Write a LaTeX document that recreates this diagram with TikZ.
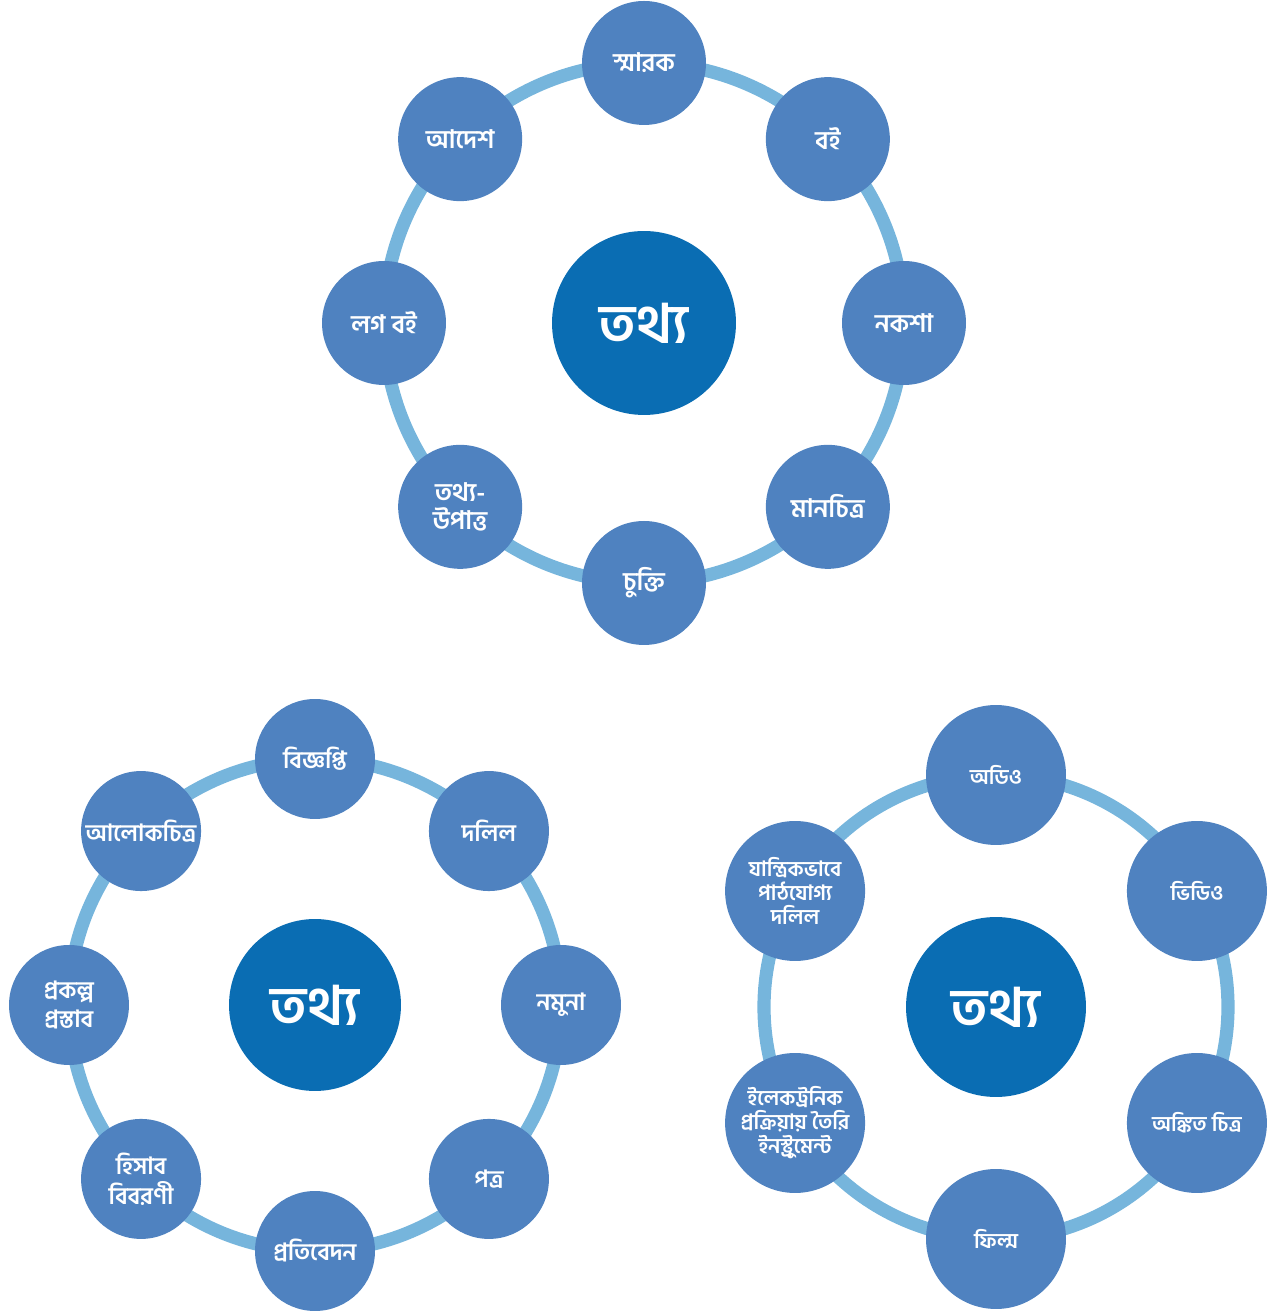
\documentclass[tikz,border=0pt]{standalone}
\usepackage{fontspec}
\newfontfamily\bnfont[Script=Bengali]{Hind Siliguri}
\definecolor{ringblue}{HTML}{76B5DC}
\definecolor{itemblue}{HTML}{4F82C0}
\definecolor{hubblue}{HTML}{0A6DB3}
\tikzstyle{item} = [circle, fill=itemblue, text=white, align=center, inner sep=0pt]
\tikzstyle{topitem} = [item, minimum size=2.48cm, font=\bnfont\bfseries\fontsize{14.5}{16}\selectfont]
\tikzstyle{leftitem} = [item, minimum size=2.4cm, font=\bnfont\bfseries\fontsize{13.5}{17}\selectfont]
\tikzstyle{rightitem} = [item, minimum size=2.8cm, font=\bnfont\bfseries\fontsize{12}{13.6}\selectfont]
\tikzstyle{hub} = [circle, fill=hubblue, text=white, inner sep=0pt, font=\bnfont\bfseries\fontsize{31}{34}\selectfont]
\tikzstyle{ring} = [draw=ringblue, line width=7.5pt]
\newcommand{\around}[3]{([shift={(#2:#3)}]#1)}

\begin{document}
\begin{tikzpicture}[x=0.02cm, y=0.02cm]%
	\useasboundingbox (0,0) rectangle (1276,1314);%
	% top cycle
	\node[hub, minimum size=3.68cm] (top) at (644,991) {তথ্য};%
	\draw[ring] (top.center) circle (260);%
	\node[topitem] (tA) at \around{top}{90}{260} {স্মারক};%
	\node[topitem] (tB) at \around{top}{45}{260} {বই};%
	\node[topitem] (tC) at \around{top}{0}{260} {নকশা};%
	\node[topitem] (tD) at \around{top}{-45}{260} {মানচিত্র};%
	\node[topitem] (tE) at \around{top}{-90}{260} {চুক্তি};%
	\node[topitem] (tF) at \around{top}{-135}{260} {তথ্য-\\উপাত্ত};%
	\node[topitem] (tG) at \around{top}{180}{260} {লগ বই};%
	\node[topitem] (tH) at \around{top}{135}{260} {আদেশ};%
	% bottom left cycle
	\node[hub, minimum size=3.44cm] (left) at (315,309) {তথ্য};%
	\draw[ring] (left.center) circle (246);%
	\node[leftitem] (lA) at \around{left}{90}{246} {বিজ্ঞপ্তি};%
	\node[leftitem] (lB) at \around{left}{45}{246} {দলিল};%
	\node[leftitem] (lC) at \around{left}{0}{246} {নমুনা};%
	\node[leftitem] (lD) at \around{left}{-45}{246} {পত্র};%
	\node[leftitem] (lE) at \around{left}{-90}{246} {প্রতিবেদন};%
	\node[leftitem] (lF) at \around{left}{-135}{246} {হিসাব\\বিবরণী};%
	\node[leftitem] (lG) at \around{left}{180}{246} {প্রকল্প\\প্রস্তাব};%
	\node[leftitem] (lH) at \around{left}{135}{246} {আলোকচিত্র};%
	% bottom right cycle
	\node[hub, minimum size=3.6cm] (right) at (996,307) {তথ্য};%
	\draw[ring] (right.center) circle (232);%
	\node[rightitem] (rA) at \around{right}{90}{232} {অডিও};%
	\node[rightitem] (rB) at \around{right}{30}{232} {ভিডিও};%
	\node[rightitem] (rC) at \around{right}{-30}{232} {অঙ্কিত চিত্র};%
	\node[rightitem] (rD) at \around{right}{-90}{232} {ফিল্ম};%
	\node[rightitem] (rE) at \around{right}{-150}{232} {ইলেকট্রনিক\\প্রক্রিয়ায় তৈরি\\ইনস্ট্রুমেন্ট};%
	\node[rightitem] (rF) at \around{right}{150}{232} {যান্ত্রিকভাবে\\পাঠযোগ্য\\দলিল};%
\end{tikzpicture}
\end{document}
